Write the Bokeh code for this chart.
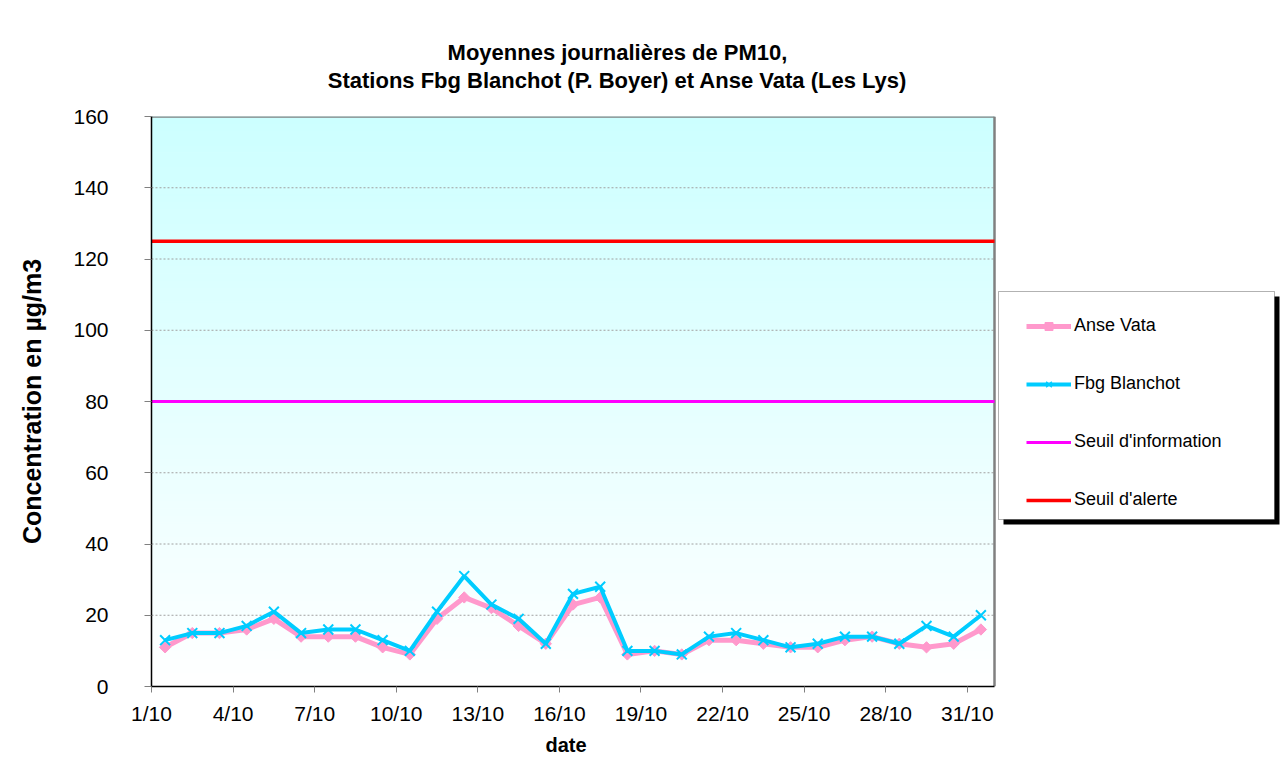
import numpy as np
from bokeh.plotting import figure
from bokeh.layouts import column
from bokeh.models import (Range1d, FixedTicker, Legend, LegendItem, BoxAnnotation,
                          Title, Label)
from bokeh.embed import file_html
from bokeh.resources import INLINE

# ---------------- data ----------------
days = [f"{d}/10" for d in range(1, 32)]
tick_labels = ["1/10", "4/10", "7/10", "10/10", "13/10", "16/10",
               "19/10", "22/10", "25/10", "28/10", "31/10"]
anse_vata = [11, 15, 15, 16, 19, 14, 14, 14, 11, 9, 19, 25, 22, 17, 12, 23,
             25, 9, 10, 9, 13, 13, 12, 11, 11, 13, 14, 12, 11, 12, 16]
fbg_blanchot = [13, 15, 15, 17, 21, 15, 16, 16, 13, 10, 21, 31, 23, 19, 12, 26,
                28, 10, 10, 9, 14, 15, 13, 11, 12, 14, 14, 12, 17, 14, 20]
seuil_information = 80
seuil_alerte = 125
y_ticks = [0, 20, 40, 60, 80, 100, 120, 140, 160]
title_lines = ["Moyennes journalières de PM10,",
               "Stations Fbg Blanchot (P. Boyer) et Anse Vata (Les Lys)"]

FONT = "Liberation Sans"
PINK = "#ff99cc"
CYAN = "#00ccff"
MAGENTA = "#ff00ff"
RED = "#ff0000"

# ---------------- layout ----------------
W = 1281
TITLE_H = 100                         # height of the title strip
H = 664                               # height of the chart figure
LEFT = 151                            # plot-area left edge (px)
TOP = 16                              # plot-area top inside the chart figure
PLOT_W, PLOT_H = 843, 570             # plot-area size (px)
TITLE_CX = 617                        # title centre (px from left)
y_min, y_max = 0, 160
n_days = len(days)
frame_w = W - LEFT
x_end = n_days * frame_w / PLOT_W     # frame extends right to hold the legend

xs = [i + 0.5 for i in range(n_days)]

# ---------------- title strip ----------------
t = figure(width=W, height=TITLE_H, output_backend="svg", toolbar_location=None,
           title=None, x_range=Range1d(0, W), y_range=Range1d(0, TITLE_H),
           min_border=0)
t.axis.visible = False
t.grid.visible = False
t.outline_line_color = None
t.border_fill_color = "white"
t.background_fill_color = "white"
for txt, cy in zip(title_lines, (52, 80)):
    # the column aligns this frame's left edge with the chart's plot area
    t.add_layout(Label(x=TITLE_CX - LEFT, y=TITLE_H - cy, x_units="screen",
                       y_units="screen", text=txt, text_align="center",
                       text_baseline="middle", text_font=FONT, text_font_size="22px",
                       text_font_style="bold", text_color="black"))

# ---------------- chart ----------------
p = figure(width=W, height=H, output_backend="svg", toolbar_location=None, title=None,
           x_range=Range1d(0, x_end), y_range=Range1d(y_min, y_max),
           min_border_left=LEFT, min_border_right=0,
           min_border_top=TOP, min_border_bottom=H - TOP - PLOT_H)
p.border_fill_color = "white"
p.background_fill_color = "white"
p.outline_line_color = None
p.grid.grid_line_color = None

# gradient background of the plot area (cyan at top -> white at bottom)
n_strips = 80
edges = np.linspace(y_min, y_max, n_strips + 1)
grad_colors = []
for k in range(n_strips):
    f = ((edges[k] + edges[k + 1]) / 2 - y_min) / (y_max - y_min)
    r = int(round(255 - 51 * f))
    grad_colors.append("#%02x%02x%02x" % (r, 255, 255))
p.quad(left=0, right=n_days, bottom=edges[:-1], top=edges[1:],
       fill_color=grad_colors, line_color=grad_colors, line_width=1, level="image")

# horizontal grid lines (dotted) within the plot area
p.segment(x0=0, x1=n_days, y0=y_ticks[1:-1], y1=y_ticks[1:-1],
          line_color="#a0a0a0", line_dash="2 2", line_width=1, level="underlay")

# plot-area border (top and right, grey)
p.segment(x0=[0, n_days], x1=[n_days, n_days], y0=[y_max, y_min], y1=[y_max, y_max],
          line_color="#808080", line_width=2.5, level="underlay")

# threshold lines
r_info = p.line(x=[0, n_days], y=[seuil_information, seuil_information],
                line_color=MAGENTA, line_width=3)
r_alert = p.line(x=[0, n_days], y=[seuil_alerte, seuil_alerte],
                 line_color=RED, line_width=3.5)

# series
r_anse = p.line(xs, anse_vata, line_color=PINK, line_width=5)
p.scatter(xs, anse_vata, marker="square", angle=np.pi / 4, size=8,
          fill_color=PINK, line_color=PINK)
r_fbg = p.line(xs, fbg_blanchot, line_color=CYAN, line_width=4)
p.scatter(xs, fbg_blanchot, marker="x", size=14, line_color=CYAN, line_width=2)

# legend-only small markers
leg_anse_m = p.scatter(x=[np.nan], y=[np.nan], marker="square", angle=np.pi / 4,
                       size=5, fill_color=PINK, line_color=PINK)
leg_fbg_m = p.scatter(x=[np.nan], y=[np.nan], marker="x", size=8,
                      line_color=CYAN, line_width=1.5)

# axes
p.xaxis.ticker = FixedTicker(ticks=[3 * k for k in range(len(tick_labels))])
p.xaxis.major_label_overrides = {3 * k: lab for k, lab in enumerate(tick_labels)}
p.xaxis.bounds = (0, n_days)
p.yaxis.ticker = FixedTicker(ticks=y_ticks)
p.yaxis.bounds = (y_min, y_max)
for ax in (p.xaxis[0], p.yaxis[0]):
    ax.axis_line_color = "black"
    ax.axis_line_width = 1.5
    ax.major_tick_line_color = "#808080"
    ax.major_tick_in = 0
    ax.minor_tick_line_color = None
    ax.major_label_text_font = FONT
    ax.major_label_text_font_size = "21px"
    ax.major_label_text_color = "black"
p.xaxis.major_tick_out = 6
p.xaxis.major_label_standoff = 9
p.yaxis.major_tick_out = 7
p.yaxis.major_label_standoff = 36
p.yaxis.axis_label = "Concentration en µg/m3"
p.yaxis.axis_label_text_font = FONT
p.yaxis.axis_label_text_font_style = "bold"
p.yaxis.axis_label_text_color = "black"
p.yaxis.axis_label_text_font_size = "25px"
p.yaxis.axis_label_standoff = 24

# x axis title, placed under the plot area
p.add_layout(Title(text="date", align="left", offset=394, vertical_align="top",
                   standoff=12, text_font=FONT, text_font_size="20px",
                   text_font_style="bold", text_color="black"), "below")

# legend box with shadow
shadow = BoxAnnotation(left=852, right=1128, top=390, bottom=162,
                       left_units="screen", right_units="screen",
                       top_units="screen", bottom_units="screen",
                       fill_color="black", fill_alpha=1, line_color=None)
box = BoxAnnotation(left=847, right=1123, top=395, bottom=167,
                    left_units="screen", right_units="screen",
                    top_units="screen", bottom_units="screen",
                    fill_color="white", fill_alpha=1, line_color="black",
                    line_width=1)
p.add_layout(shadow)
p.add_layout(box)

legend = Legend(items=[
    LegendItem(label="Anse Vata", renderers=[r_anse, leg_anse_m]),
    LegendItem(label="Fbg Blanchot", renderers=[r_fbg, leg_fbg_m]),
    LegendItem(label="Seuil d'information", renderers=[r_info]),
    LegendItem(label="Seuil d'alerte", renderers=[r_alert]),
], location=(875, 176), orientation="vertical", padding=10, spacing=37,
    glyph_width=45, glyph_height=20, label_height=20, label_standoff=3,
    label_text_font=FONT, label_text_font_size="18px", label_text_color="black",
    border_line_color=None, background_fill_alpha=0)
p.add_layout(legend, "center")

layout = column(t, p, spacing=0)
open("out.html", "w").write(file_html(layout, INLINE))
